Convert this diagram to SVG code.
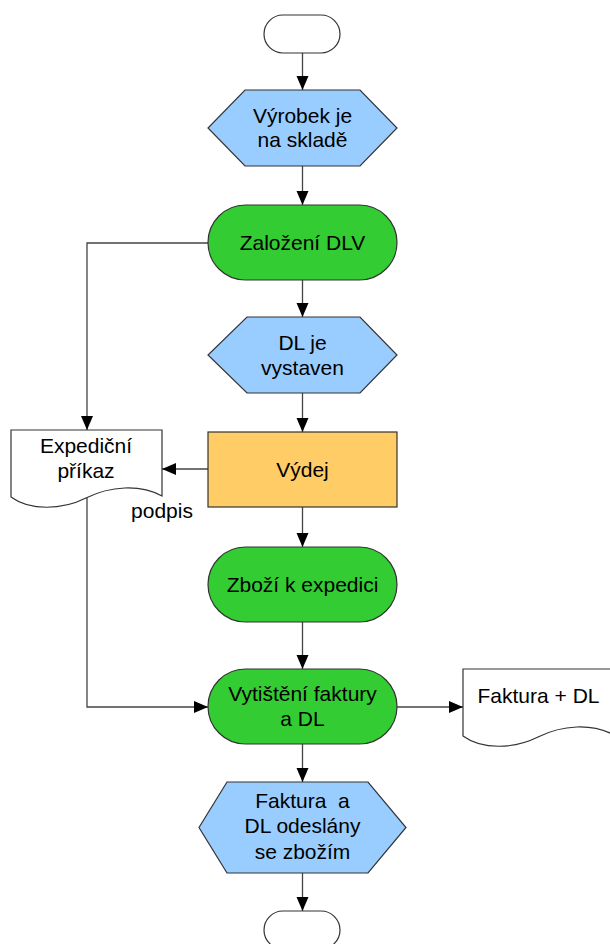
<svg xmlns="http://www.w3.org/2000/svg" width="610" height="944" viewBox="0 0 610 944">
<style>
text{font-family:"Liberation Sans",Arial,sans-serif;font-size:21px;fill:#000;text-anchor:middle}
.shape{stroke:#333;stroke-width:1.2}
.term{fill:#fff}
.green{fill:#33CC33}
.blue{fill:#99CCFF}
.orange{fill:#FFCC66}
.doc{fill:#fff}
.conn{fill:none;stroke:#444;stroke-width:1.3;marker-end:url(#arr)}
</style>
<defs>
<marker id="arr" markerUnits="userSpaceOnUse" markerWidth="14" markerHeight="14" viewBox="0 0 14 12" refX="14" refY="6" orient="auto">
<path d="M0,0 L14,6 L0,12 Z" fill="#000"/>
</marker>
</defs>
<g id="connectors">
<line class="conn" x1="302.5" y1="53" x2="302.5" y2="90"/>
<line class="conn" x1="302.5" y1="166" x2="302.5" y2="205"/>
<polyline class="conn" points="208,243 87,243 87,430"/>
<line class="conn" x1="302.5" y1="280" x2="302.5" y2="317"/>
<line class="conn" x1="302.5" y1="393" x2="302.5" y2="432"/>
<line class="conn" x1="208" y1="469" x2="162" y2="469"/>
<line class="conn" x1="302.5" y1="507" x2="302.5" y2="547"/>
<line class="conn" x1="302.5" y1="622" x2="302.5" y2="669"/>
<polyline class="conn" points="87,497 87,707 208,707"/>
<line class="conn" x1="397" y1="707" x2="463" y2="707"/>
<line class="conn" x1="302.5" y1="744" x2="302.5" y2="782"/>
<line class="conn" x1="302.5" y1="873" x2="302.5" y2="911"/>
</g>
<g id="start">
<rect class="shape term" x="264" y="15" width="76" height="38" rx="19"/>
</g>
<g id="vyrobek-na-sklade">
<polygon class="shape blue" points="245,90 360,90 397,128 360,166 245,166 208,128"/>
<text x="302.5" y="123">Výrobek je</text>
<text x="302.5" y="147">na skladě</text>
</g>
<g id="zalozeni-dlv">
<rect class="shape green" x="208" y="205" width="189" height="75" rx="37.5"/>
<text x="302.5" y="250">Založení DLV</text>
</g>
<g id="dl-je-vystaven">
<polygon class="shape blue" points="247,317 360,317 397,355 360,393 247,393 208,355"/>
<text x="302.5" y="350">DL je</text>
<text x="302.5" y="375">vystaven</text>
</g>
<g id="expedicni-prikaz">
<path class="shape doc" d="M11,430 H162 V496 C140,484 110,486 86,498 C62,510 30,511 11,497 Z"/>
<text x="86" y="453">Expediční</text>
<text x="86" y="478">příkaz</text>
</g>
<g id="vydej">
<rect class="shape orange" x="208" y="432" width="189" height="75"/>
<text x="302.5" y="477">Výdej</text>
</g>
<text x="162" y="518">podpis</text>
<g id="zbozi-k-expedici">
<rect class="shape green" x="208" y="547" width="189" height="75" rx="37.5"/>
<text x="302.5" y="592">Zboží k expedici</text>
</g>
<g id="vytisteni-faktury">
<rect class="shape green" x="208" y="669" width="189" height="75" rx="37.5"/>
<text x="302.5" y="701">Vytištění faktury</text>
<text x="302.5" y="726">a DL</text>
</g>
<g id="faktura-dl">
<path class="shape doc" d="M463,669 H614 V735 C592,723 562,725 538,737 C514,749 482,750 463,736 Z"/>
<text x="538.5" y="703">Faktura + DL</text>
</g>
<g id="faktura-odeslany">
<polygon class="shape blue" points="227,782 368,782 406,827.5 368,873 227,873 199,827.5"/>
<text x="302.5" y="808" xml:space="preserve">Faktura  a</text>
<text x="302.5" y="833">DL odeslány</text>
<text x="302.5" y="859">se zbožím</text>
</g>
<g id="end">
<rect class="shape term" x="264" y="911" width="76" height="38" rx="19"/>
</g>
</svg>
